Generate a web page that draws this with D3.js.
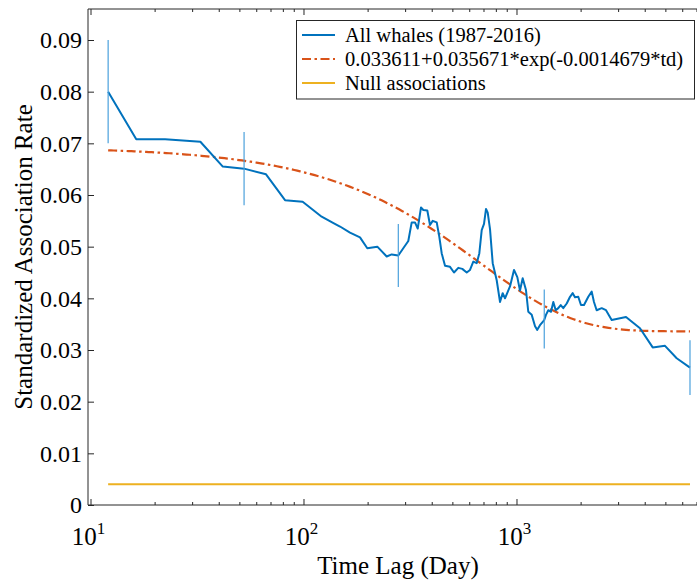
<!DOCTYPE html>
<html>
<head>
<meta charset="utf-8">
<script src="https://cdn.jsdelivr.net/npm/d3@7/dist/d3.min.js"></script>
<style>
  html, body { margin: 0; padding: 0; background: #fff; }
  svg { display: block; }
  svg text { font-family: "Liberation Serif", "Times New Roman", serif; }
</style>
</head>
<body>
<svg id="chart" width="697" height="580"></svg>
<script>
// Time lag (days) of each association-rate estimate
const timeLag = [12.1, 16.4, 22.4, 32.8, 41.8, 52.6, 66.7, 81.9, 99.1, 121.7,
  137.6, 148.4, 165.3, 184.2, 199.3, 222.1, 245.8, 259.5, 278.7, 294.1,
  310.5, 322.1, 333.8, 343.8, 356.2, 365.2, 381.3, 392.6, 404.3, 422.2,
  434.2, 445.6, 461.8, 487.4, 508.9, 533.1, 556.6, 583.8, 605, 627,
  650.4, 669, 686.6, 703.9, 719.3, 732.6, 751.1, 773.3, 807.4, 836.7,
  861.5, 883.2, 932.2, 973.4, 1009, 1038.5, 1069.3, 1108, 1136, 1179,
  1222, 1252, 1289, 1350, 1375, 1410, 1452, 1489, 1528, 1571,
  1613, 1658, 1721, 1784, 1836, 1882, 1950, 2008, 2075, 2173,
  2255, 2311, 2379, 2512, 2632, 2798, 3267, 3800, 4360, 4981,
  5651, 6525];

// Standardized lagged association rate, all whales 1987-2016
const sla = [0.0800, 0.0708, 0.0708, 0.0703, 0.0655, 0.0651, 0.0640, 0.0590, 0.0587, 0.0558,
  0.0546, 0.0539, 0.0527, 0.0518, 0.0497, 0.0500, 0.0481, 0.0485, 0.0483, 0.0497,
  0.0511, 0.0547, 0.0547, 0.0535, 0.0576, 0.0571, 0.0570, 0.0542, 0.0550, 0.0547,
  0.0519, 0.0487, 0.0463, 0.0461, 0.0450, 0.0459, 0.0457, 0.0450, 0.0455, 0.0471,
  0.0468, 0.0487, 0.0532, 0.0544, 0.0573, 0.0566, 0.0534, 0.0468, 0.0435, 0.0393,
  0.0410, 0.0400, 0.0423, 0.0455, 0.0441, 0.0415, 0.0439, 0.0416, 0.0374, 0.0368,
  0.0346, 0.0339, 0.0348, 0.0358, 0.0368, 0.0377, 0.0374, 0.0393, 0.0377, 0.0381,
  0.0387, 0.0381, 0.0390, 0.0403, 0.0410, 0.0402, 0.0403, 0.0387, 0.0387, 0.0403,
  0.0413, 0.0393, 0.0377, 0.0381, 0.0377, 0.0358, 0.0364, 0.0342, 0.0305, 0.0308,
  0.0284, 0.0266];

// Jackknife error bars (lag, centre, half-width)
const errLag = [12.1, 52.6, 278.7, 1350, 6525];
const errMid = [0.0800, 0.0651, 0.0483, 0.0360, 0.0266];
const errHalf = [0.0100, 0.0071, 0.0061, 0.0057, 0.0053];

// Fitted model a + b*exp(-c*td)
const fitA = 0.033611, fitB = 0.035671, fitC = 0.0014679;
const nullRate = 0.0040;

const yTicks = [0, 0.01, 0.02, 0.03, 0.04, 0.05, 0.06, 0.07, 0.08, 0.09];
const xMajor = [10, 100, 1000];
const legendLabels = ["All whales (1987-2016)",
  "0.033611+0.035671*exp(-0.0014679*td)",
  "Null associations"];

(function draw() {
  const serif = "Liberation Serif";
  const colors = { data: "#0072BD", err: "#4aa0dc", fit: "#D95319", nul: "#EDB120", axis: "#262626" };

  const svg = d3.select("#chart");
  const pl = 88, pr = 707, pt = 9, pb = 505;

  const x = d3.scaleLog().domain([9.733, 7842]).range([pl, pr]);
  const y = d3.scaleLinear().domain([0, 0.096]).range([pb, pt]);

  // minor tick values for each decade
  const xMinor = [];
  for (let d = 10; d <= 1000; d *= 10) for (let k = 2; k <= 9; k++) if (d * k <= 7842) xMinor.push(d * k);

  // Null line
  svg.append("line")
    .attr("x1", x(timeLag[0])).attr("x2", x(timeLag[timeLag.length - 1]))
    .attr("y1", y(nullRate)).attr("y2", y(nullRate))
    .attr("stroke", colors.nul).attr("stroke-width", 2);

  // Fitted curve, evaluated on a dense log grid
  const l0 = Math.log10(timeLag[0]), l1 = Math.log10(timeLag[timeLag.length - 1]);
  const fitData = d3.range(0, 201).map(i => {
    const t = Math.pow(10, l0 + i / 200 * (l1 - l0));
    return [t, fitA + fitB * Math.exp(-fitC * t)];
  });
  svg.append("path")
    .datum(fitData)
    .attr("fill", "none").attr("stroke", colors.fit).attr("stroke-width", 2.2)
    .attr("stroke-dasharray", "9,3.5,2.5,3.5")
    .attr("d", d3.line().x(d => x(d[0])).y(d => y(d[1])));

  // Data line
  svg.append("path")
    .datum(timeLag.map((t, i) => [t, sla[i]]))
    .attr("fill", "none").attr("stroke", colors.data).attr("stroke-width", 2)
    .attr("stroke-linejoin", "round")
    .attr("d", d3.line().x(d => x(d[0])).y(d => y(d[1])));

  // Error bars
  svg.append("g").selectAll("line").data(errLag).join("line")
    .attr("x1", d => x(d)).attr("x2", d => x(d))
    .attr("y1", (d, i) => y(errMid[i] - errHalf[i]))
    .attr("y2", (d, i) => y(errMid[i] + errHalf[i]))
    .attr("stroke", colors.err).attr("stroke-width", 1.2);

  // Axes
  function styleAxis(g) {
    g.attr("font-family", serif);
    g.select(".domain").remove();
    g.selectAll(".tick line").attr("stroke", colors.axis).attr("stroke-width", 1);
  }
  svg.append("g").attr("transform", `translate(0,${pb})`)
    .call(d3.axisBottom(x).tickValues(xMinor).tickSize(-3).tickFormat(""))
    .call(styleAxis);
  svg.append("g").attr("transform", `translate(0,${pb})`)
    .call(d3.axisBottom(x).tickValues(xMajor).tickSize(-6).tickFormat(""))
    .call(styleAxis);
  svg.append("g").attr("transform", `translate(0,${pt})`)
    .call(d3.axisTop(x).tickValues(xMinor).tickSize(-3).tickFormat(""))
    .call(styleAxis);
  svg.append("g").attr("transform", `translate(0,${pt})`)
    .call(d3.axisTop(x).tickValues(xMajor).tickSize(-6).tickFormat(""))
    .call(styleAxis);
  const yAx = svg.append("g").attr("transform", `translate(${pl},0)`)
    .call(d3.axisLeft(y).tickValues(yTicks).tickSize(-6).tickPadding(6)
      .tickFormat(d => d === 0 ? "0" : d3.format(".2f")(d)))
    .call(styleAxis);
  yAx.selectAll("text").attr("font-size", 24).attr("fill", "#000");

  // Box lines (left, bottom, top)
  svg.append("path")
    .attr("d", `M${pr},${pt}H${pl}V${pb}H${pr}`)
    .attr("fill", "none").attr("stroke", colors.axis).attr("stroke-width", 1);

  // X tick labels with superscript exponents
  const xl = svg.append("g").selectAll("text").data(xMajor).join("text")
    .attr("x", d => x(d) - 2).attr("y", 545)
    .attr("text-anchor", "middle").attr("font-size", 25).attr("fill", "#000");
  xl.append("tspan").text("10");
  xl.append("tspan").attr("font-size", 17).attr("dy", -11).text(d => Math.round(Math.log10(d)));

  // Axis titles
  svg.append("text").attr("x", 398).attr("y", 574).attr("text-anchor", "middle")
    .attr("font-size", 25).attr("fill", "#000").text("Time Lag (Day)");
  svg.append("text").attr("transform", "translate(32,257) rotate(-90)")
    .attr("text-anchor", "middle").attr("font-size", 25).attr("fill", "#000")
    .text("Standardized Association Rate");

  // Legend
  const lg = svg.append("g");
  lg.append("rect").attr("x", 296.5).attr("y", 20.5).attr("width", 398).attr("height", 78.5)
    .attr("fill", "#fff").attr("stroke", colors.axis).attr("stroke-width", 1);
  const legendStyles = [
    { c: colors.data, dash: null },
    { c: colors.fit, dash: "9,3.5,2.5,3.5" },
    { c: colors.nul, dash: null }
  ];
  legendLabels.forEach((lab, i) => {
    const yy = 35 + i * 24;
    lg.append("line").attr("x1", 302).attr("x2", 335).attr("y1", yy).attr("y2", yy)
      .attr("stroke", legendStyles[i].c).attr("stroke-width", 2)
      .attr("stroke-dasharray", legendStyles[i].dash);
    lg.append("text").attr("x", 345).attr("y", yy + 7).attr("font-size", 20.5).attr("fill", "#000").text(lab);
  });

  svg.selectAll("text").attr("font-family", serif);
})();
</script>
</body>
</html>
